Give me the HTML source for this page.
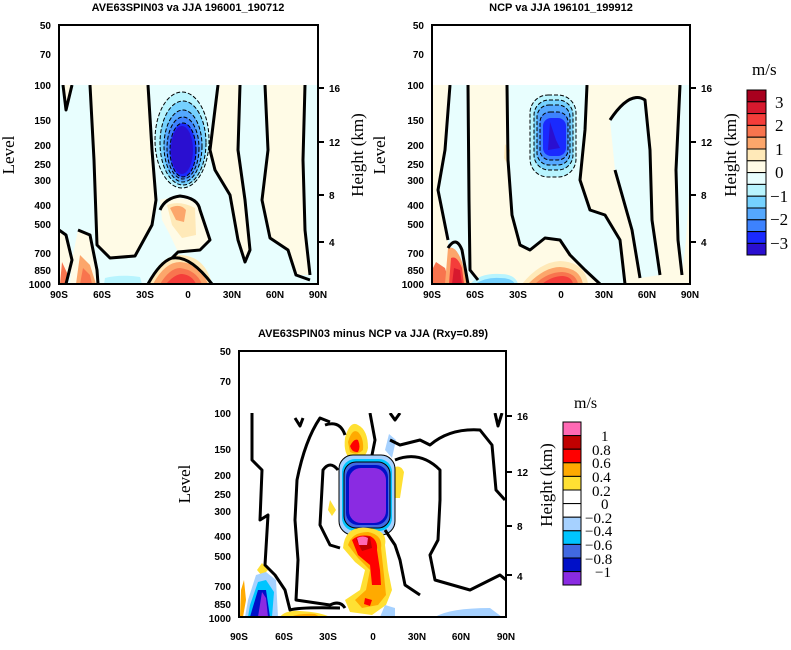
<!DOCTYPE html>
<html><head><meta charset="utf-8"><style>
html,body{margin:0;padding:0;background:#fff;}
svg{display:block;}
text{font-family:"Liberation Sans",sans-serif;}
.t{font-weight:bold;font-size:11px;}
.tk{font-weight:bold;font-size:10px;}
text.s,.s text{font-family:"Liberation Serif",serif;font-size:17px;}
.c{fill:none;stroke:#000;stroke-width:3;stroke-linejoin:round}
.d{fill:none;stroke:#000;stroke-width:1;stroke-dasharray:4,2}
.n{fill:none;stroke:#000;stroke-width:1}
</style></head><body>
<svg width="791" height="650" viewBox="0 0 791 650" xmlns="http://www.w3.org/2000/svg">
<defs>
<clipPath id="c1"><rect x="59" y="85" width="259" height="199"/></clipPath>
<clipPath id="c2"><rect x="432" y="85" width="258" height="199"/></clipPath>
<clipPath id="c3"><rect x="239" y="413" width="267" height="204"/></clipPath>
</defs>

<g clip-path="url(#c1)">
<rect x="59" y="85" width="259" height="199" fill="#e8fefe"/>
<path d="M90,85 L148,85 L152,150 L156,200 L152,225 L135,256 L110,258 L97,245 L94,160 Z" fill="#fffbe6"/>
<path d="M59,85 L63,85 L66,110 L72,85 L59,85 Z" fill="#fffbe6"/>
<path d="M218,85 L240,85 L238,150 L245,200 L250,250 L245,262 L238,240 L230,195 L215,170 L210,150 Z" fill="#fffbe6"/>
<path d="M265,85 L305,85 L303,160 L305,230 L310,275 L296,275 L288,250 L270,238 L262,200 L268,150 Z" fill="#fffbe6"/>
<path d="M59,230 L66,235 L72,260 L65,284 L59,284 Z" fill="#fffbe6"/>
<path d="M78,230 L90,235 L97,270 L98,284 L70,284 L72,260 Z" fill="#fffbe6"/>
<path d="M62,262 L68,275 L66,284 L60,284 Z" fill="#f8744e"/>
<path d="M80,255 L90,265 L96,284 L76,284 Z" fill="#fca66b"/>
<path d="M83,268 L90,275 L92,284 L80,284 Z" fill="#f8744e"/>
<path d="M160,200 Q175,195 198,202 L205,225 L210,240 L198,250 L178,252 L170,235 L162,220 Z" fill="#fffbe6"/>
<path d="M167,205 Q180,200 195,208 L196,235 L182,238 L172,225 Z" fill="#ffe9b8"/>
<path d="M170,208 Q180,203 186,210 L184,222 L176,220 Z" fill="#fca66b"/>
<path d="M148,284 Q160,255 180,255 Q205,256 212,284 Z" fill="#ffe9b8"/>
<path d="M153,284 Q165,262 180,262 Q200,263 208,284 Z" fill="#fca66b"/>
<path d="M160,284 Q170,268 180,268 Q196,270 202,284 Z" fill="#f8744e"/>
<path d="M166,284 Q175,274 182,274 Q192,275 196,284 Z" fill="#f43d3a"/>
<path d="M105,278 Q120,274 140,277 L142,284 L104,284 Z" fill="#b8f4fe"/>
<ellipse cx="182" cy="140" rx="27" ry="48" fill="#b8f4fe"/>
<ellipse cx="183" cy="143" rx="23" ry="42" fill="#75d1fe"/>
<ellipse cx="183" cy="146" rx="19" ry="36" fill="#55a8fe"/>
<ellipse cx="183" cy="148" rx="16" ry="31" fill="#3d82fe"/>
<ellipse cx="183" cy="150" rx="13" ry="27" fill="#1a2afe"/>
<ellipse cx="182" cy="150" rx="11" ry="24" fill="#2a0fd0"/>
<ellipse cx="182" cy="140" rx="27" ry="48" class="d"/>
<ellipse cx="183" cy="143" rx="23" ry="42" class="d"/>
<ellipse cx="183" cy="146" rx="19" ry="36" class="d"/>
<ellipse cx="183" cy="148" rx="16" ry="31" class="d"/>
<ellipse cx="183" cy="150" rx="13" ry="27" class="d"/>
<path class="c" d="M90,85 L94,160 L97,245 L110,258 L135,256 L152,225 L156,200 L152,150 L148,85"/>
<path class="c" d="M63,85 L66,110 L72,85"/>
<path class="c" d="M160,210 Q165,198 180,196 Q198,198 200,210 L205,225 L210,240 L200,250 L178,252 L172,258 Q190,255 212,284"/>
<path class="c" d="M148,284 Q160,262 172,258"/>
<path class="c" d="M218,85 L210,150 L215,170 L230,195 L238,240 L245,262 L250,250 L245,200 L238,150 L240,85"/>
<path class="c" d="M265,85 L268,150 L262,200 L270,238 L288,250 L296,275 L310,280"/>
<path class="c" d="M305,85 L303,160 L305,230 L310,275"/>
<path class="c" d="M59,230 L66,235 L72,260 L66,284"/>
<path class="c" d="M78,230 L90,235 L97,270 L98,284"/>
</g>
<rect x="59" y="25" width="259" height="259" fill="none" stroke="#000" stroke-width="2"/>

<g clip-path="url(#c2)">
<rect x="432" y="85" width="258" height="199" fill="#fffbe6"/>
<path d="M450,85 L468,85 L469,200 L470,270 L478,280 L450,284 L448,240 L438,190 L445,150 Z" fill="#e8fefe"/>
<path d="M507,85 L587,85 L585,130 L580,180 L590,210 L605,215 L620,240 L625,284 L600,284 L585,270 L570,255 L560,240 L545,238 L530,250 L520,245 L512,215 L508,160 Z" fill="#e8fefe"/>
<path d="M610,120 Q630,90 645,100 L650,150 L652,220 L660,275 L640,278 L632,230 L615,170 Z" fill="#e8fefe"/>
<path d="M680,85 L690,85 L690,180 L686,240 L682,275 L678,240 L676,170 Z" fill="#e8fefe"/>
<path d="M505,144 L510,150 L508,165 L504,158 Z" fill="#ffe9b8"/>
<path d="M470,284 Q480,273 500,274 Q515,274 518,284 Z" fill="#b8f4fe"/>
<path d="M475,284 Q486,277 500,278 Q512,278 515,284 Z" fill="#75d1fe"/>
<path d="M436,262 L445,268 L450,284 L432,284 L432,270 Z" fill="#f8744e"/>
<path d="M448,248 Q456,245 462,262 L468,284 L445,284 Z" fill="#fca66b"/>
<path d="M451,258 Q457,255 462,268 L464,284 L449,284 Z" fill="#f43d3a"/>
<path d="M454,268 L460,270 L462,284 L452,284 Z" fill="#d7192e"/>
<path d="M522,284 Q540,262 560,261 Q585,262 588,284 Z" fill="#ffe9b8"/>
<path d="M528,284 Q545,267 560,267 Q580,268 583,284 Z" fill="#fca66b"/>
<path d="M535,284 Q548,272 562,272 Q576,273 578,284 Z" fill="#f8744e"/>
<path d="M542,284 Q552,276 563,276 Q572,277 573,284 Z" fill="#f43d3a"/>
<rect x="530" y="95" width="46" height="82" rx="18" fill="#b8f4fe"/>
<rect x="534" y="100" width="39" height="70" rx="15" fill="#75d1fe"/>
<rect x="537" y="105" width="33" height="60" rx="12" fill="#55a8fe"/>
<rect x="540" y="112" width="28" height="48" rx="10" fill="#3d82fe"/>
<rect x="543" y="118" width="23" height="38" rx="8" fill="#1a2afe"/>
<path d="M550,122 L556,140 L560,148 L548,150 Z" fill="#2a0fd0"/>
<rect x="530" y="95" width="46" height="82" rx="18" class="d"/>
<rect x="534" y="100" width="39" height="70" rx="15" class="d"/>
<rect x="537" y="105" width="33" height="60" rx="12" class="d"/>
<rect x="540" y="112" width="28" height="48" rx="10" class="d"/>
<path class="c" d="M468,85 L469,200 L470,270 L478,280"/>
<path class="c" d="M450,85 L445,150 L438,190 L448,240"/>
<path class="c" d="M507,85 L508,160 L512,215 L520,245 L530,250 L545,238 L560,240 L570,255 L585,270 L600,284"/>
<path class="c" d="M587,85 L585,130 L580,180 L590,210 L605,215 L620,240 L625,284"/>
<path class="c" d="M610,120 Q630,90 645,100 L650,150 L652,220 L660,275"/>
<path class="c" d="M615,170 L632,230 L640,278"/>
<path class="c" d="M680,85 L676,170 L678,240 L682,275"/>
<path class="c" d="M448,248 Q456,235 462,250 L468,284"/>
</g>
<rect x="432" y="25" width="258" height="259" fill="none" stroke="#000" stroke-width="2"/>

<g clip-path="url(#c3)">
<rect x="239" y="413" width="267" height="204" fill="#fff"/>
<path d="M345,438 Q350,420 358,425 Q368,430 368,448 Q366,460 352,460 Q343,455 345,438 Z" fill="#ffe033"/>
<path d="M348,442 Q352,428 358,432 Q364,438 363,450 Q357,456 350,452 Z" fill="#ffaa00"/>
<path d="M350,446 Q354,438 358,440 Q361,447 358,452 Q352,453 350,446 Z" fill="#ff0000"/>
<path d="M389,434 L396,440 L392,458 L385,450 Z" fill="#a6d1ff"/>
<path d="M390,470 Q400,462 404,472 L400,498 L392,498 Z" fill="#ffe033"/>
<path d="M330,500 L336,510 L332,516 L328,510 Z" fill="#ffe033"/>
<path d="M262,563 L268,570 L262,576 L257,570 Z" fill="#ffe033"/>
<rect x="339" y="455" width="56" height="80" rx="14" fill="#a6d1ff"/>
<rect x="342" y="459" width="50" height="72" rx="13" fill="#00c5ff"/>
<rect x="344" y="462" width="46" height="66" rx="12" fill="#4169e1"/>
<rect x="346" y="465" width="42" height="60" rx="12" fill="#0010c8"/>
<rect x="349" y="468" width="37" height="55" rx="12" fill="#8a2be2"/>
<rect x="339" y="455" width="56" height="80" rx="14" class="n"/>
<rect x="344" y="462" width="46" height="66" rx="12" class="n"/>
<path d="M343,548 Q345,525 368,528 Q388,530 385,545 L388,570 L392,590 L386,605 L372,615 L350,612 L345,600 L360,590 L365,570 L355,562 Z" fill="#ffe033"/>
<path d="M348,545 Q352,532 368,532 Q383,535 381,548 L384,575 L386,595 L378,605 L362,608 L355,600 L366,590 L370,570 L358,558 Z" fill="#ffaa00"/>
<path d="M352,540 Q358,534 370,536 Q378,540 377,550 L380,570 L381,585 L372,585 L370,565 L358,555 Z" fill="#ff0000"/>
<path d="M356,539 Q362,535 370,537 L372,548 L362,551 Z" fill="#c00000"/>
<path d="M357,538 Q363,535 368,538 L367,545 L359,545 Z" fill="#ff69b4"/>
<path d="M365,598 L372,600 L370,606 L364,604 Z" fill="#ff0000"/>
<path d="M280,617 Q285,610 300,611 Q320,612 330,617 Z" fill="#ffe033"/>
<path d="M290,617 Q300,613 315,614 L320,617 Z" fill="#ffaa00"/>
<path d="M248,600 L256,575 L266,572 L276,580 L278,617 L245,617 Z" fill="#a6d1ff"/>
<path d="M250,605 L258,582 L266,580 L274,592 L272,617 L248,617 Z" fill="#00c5ff"/>
<path d="M252,610 L258,590 L266,590 L270,617 L250,617 Z" fill="#0010c8"/>
<path d="M258,617 L262,592 L266,598 L268,617 Z" fill="#8a2be2"/>
<path d="M241,590 L244,580 L246,600 L243,617 L240,617 Z" fill="#ffaa00"/>
<path d="M435,617 Q450,608 490,608 L502,617 Z" fill="#a6d1ff"/>
<path d="M380,617 L385,605 L395,608 L395,617 Z" fill="#a6d1ff"/>
<path class="c" d="M252,413 L252,460 L262,470 L260,520 L268,515 L265,565 L275,575 L285,590 L290,610 Q300,607 340,608"/>
<path class="c" d="M295,418 L300,426 L303,418"/>
<path class="c" d="M330,422 L320,418 Q305,440 297,480 L295,520 L298,560 L296,600 L330,605 Q340,600 345,608"/>
<path class="c" d="M325,425 Q340,420 345,435"/>
<path class="c" d="M370,413 L375,440 L372,455"/>
<path class="c" d="M338,470 Q330,460 323,470 L320,525 L330,545 L340,548"/>
<path class="c" d="M390,440 L400,445 L420,440 L430,445 Q450,428 480,430 L492,445 L496,490 L505,500"/>
<path class="c" d="M395,460 Q420,450 440,470 L440,500 L438,540 L430,555 L435,580 L470,590 L490,580 L500,575 L506,580"/>
<path class="c" d="M385,530 L395,545 L400,560 L405,585 L420,595"/>
<path class="c" d="M390,413 L395,420 L400,413"/>
<path class="c" d="M495,413 L498,426 L502,413"/>
</g>
<rect x="239" y="351" width="267" height="266" fill="none" stroke="#000" stroke-width="2"/>

<g class="tk" text-anchor="end">
<text x="51" y="29">50</text><text x="51" y="58">70</text><text x="51" y="89">100</text><text x="51" y="124">150</text><text x="51" y="149">200</text><text x="51" y="168">250</text><text x="51" y="184">300</text><text x="51" y="209">400</text><text x="51" y="228">500</text><text x="51" y="257">700</text><text x="51" y="274">850</text><text x="51" y="288">1000</text>
<text x="424" y="29">50</text><text x="424" y="58">70</text><text x="424" y="89">100</text><text x="424" y="124">150</text><text x="424" y="149">200</text><text x="424" y="168">250</text><text x="424" y="184">300</text><text x="424" y="209">400</text><text x="424" y="228">500</text><text x="424" y="257">700</text><text x="424" y="274">850</text><text x="424" y="288">1000</text>
<text x="231" y="355">50</text><text x="231" y="385">70</text><text x="231" y="417">100</text><text x="231" y="453">150</text><text x="231" y="479">200</text><text x="231" y="498">250</text><text x="231" y="515">300</text><text x="231" y="540">400</text><text x="231" y="560">500</text><text x="231" y="590">700</text><text x="231" y="608">850</text><text x="231" y="622">1000</text>
</g>
<g class="tk" text-anchor="middle">
<text x="59" y="298">90S</text><text x="102" y="298">60S</text><text x="145" y="298">30S</text><text x="188" y="298">0</text><text x="232" y="298">30N</text><text x="275" y="298">60N</text><text x="318" y="298">90N</text>
<text x="432" y="298">90S</text><text x="475" y="298">60S</text><text x="518" y="298">30S</text><text x="561" y="298">0</text><text x="604" y="298">30N</text><text x="647" y="298">60N</text><text x="690" y="298">90N</text>
<text x="239" y="640">90S</text><text x="284" y="640">60S</text><text x="328" y="640">30S</text><text x="373" y="640">0</text><text x="417" y="640">30N</text><text x="461" y="640">60N</text><text x="506" y="640">90N</text>
</g>
<g class="tk" font-size="9">
<text x="329" y="92">16</text><text x="329" y="146">12</text><text x="329" y="199">8</text><text x="329" y="246">4</text>
<text x="701" y="92">16</text><text x="701" y="146">12</text><text x="701" y="199">8</text><text x="701" y="246">4</text>
<text x="517" y="420">16</text><text x="517" y="476">12</text><text x="517" y="530">8</text><text x="517" y="580">4</text>
</g>
<g stroke="#000" stroke-width="2">
<line x1="318" y1="88" x2="324" y2="88"/><line x1="318" y1="142" x2="324" y2="142"/><line x1="318" y1="195" x2="324" y2="195"/><line x1="318" y1="242" x2="324" y2="242"/>
<line x1="690" y1="88" x2="696" y2="88"/><line x1="690" y1="142" x2="696" y2="142"/><line x1="690" y1="195" x2="696" y2="195"/><line x1="690" y1="242" x2="696" y2="242"/>
<line x1="506" y1="416" x2="512" y2="416"/><line x1="506" y1="472" x2="512" y2="472"/><line x1="506" y1="526" x2="512" y2="526"/><line x1="506" y1="575" x2="512" y2="575"/>
</g>
<text class="t" x="188" y="11" text-anchor="middle">AVE63SPIN03 va JJA 196001_190712</text>
<text class="t" x="561" y="11" text-anchor="middle">NCP va JJA 196101_199912</text>
<text class="t" x="373" y="337" text-anchor="middle">AVE63SPIN03 minus NCP va JJA (Rxy=0.89)</text>
<text class="s" transform="translate(14,155) rotate(-90)" text-anchor="middle">Level</text>
<text class="s" transform="translate(385,155) rotate(-90)" text-anchor="middle">Level</text>
<text class="s" transform="translate(190,484) rotate(-90)" text-anchor="middle">Level</text>
<text class="s" transform="translate(363,155) rotate(-90)" text-anchor="middle">Height (km)</text>
<text class="s" transform="translate(736,155) rotate(-90)" text-anchor="middle">Height (km)</text>
<text class="s" transform="translate(552,485) rotate(-90)" text-anchor="middle">Height (km)</text>

<g stroke="#000" stroke-width="1">
<rect x="747" y="90" width="19" height="11.8" fill="#a8001e"/>
<rect x="747" y="101.8" width="19" height="11.8" fill="#d7192e"/>
<rect x="747" y="113.6" width="19" height="11.8" fill="#f43d3a"/>
<rect x="747" y="125.4" width="19" height="11.8" fill="#f8744e"/>
<rect x="747" y="137.2" width="19" height="11.8" fill="#fca66b"/>
<rect x="747" y="149" width="19" height="11.8" fill="#ffe9b8"/>
<rect x="747" y="160.8" width="19" height="11.8" fill="#fffbe6"/>
<rect x="747" y="172.6" width="19" height="11.8" fill="#e8fefe"/>
<rect x="747" y="184.4" width="19" height="11.8" fill="#b8f4fe"/>
<rect x="747" y="196.2" width="19" height="11.8" fill="#75d1fe"/>
<rect x="747" y="208" width="19" height="11.8" fill="#55a8fe"/>
<rect x="747" y="219.8" width="19" height="11.8" fill="#3d82fe"/>
<rect x="747" y="231.6" width="19" height="11.8" fill="#1a2afe"/>
<rect x="747" y="243.4" width="19" height="11.6" fill="#2a0fd0"/>
</g>
<g class="s">
<text x="752" y="75">m/s</text>
<text x="775" y="108">3</text><text x="775" y="131">2</text><text x="775" y="155">1</text><text x="775" y="178">0</text><text x="770" y="202">−1</text><text x="770" y="225">−2</text><text x="770" y="249">−3</text>
</g>
<g stroke="#000" stroke-width="1">
<rect x="563" y="422" width="18" height="13.6" fill="#ff69b4"/>
<rect x="563" y="435.6" width="18" height="13.6" fill="#c00000"/>
<rect x="563" y="449.2" width="18" height="13.6" fill="#ff0000"/>
<rect x="563" y="462.8" width="18" height="13.6" fill="#ffaa00"/>
<rect x="563" y="476.4" width="18" height="13.6" fill="#ffe033"/>
<rect x="563" y="490" width="18" height="13.6" fill="#fff"/>
<rect x="563" y="503.6" width="18" height="13.6" fill="#fff"/>
<rect x="563" y="517.2" width="18" height="13.6" fill="#a6d1ff"/>
<rect x="563" y="530.8" width="18" height="13.6" fill="#00c5ff"/>
<rect x="563" y="544.4" width="18" height="13.6" fill="#4169e1"/>
<rect x="563" y="558" width="18" height="13.6" fill="#0010c8"/>
<rect x="563" y="571.6" width="18" height="13.4" fill="#8a2be2"/>
</g>
<g class="s">
<text x="574" y="408" style="font-size:16px">m/s</text>
<text x="601" y="441" style="font-size:15px">1</text><text x="592" y="455" style="font-size:15px">0.8</text><text x="592" y="468" style="font-size:15px">0.6</text><text x="592" y="482" style="font-size:15px">0.4</text><text x="592" y="496" style="font-size:15px">0.2</text><text x="601" y="509" style="font-size:15px">0</text><text x="585" y="523" style="font-size:15px">−0.2</text><text x="585" y="536" style="font-size:15px">−0.4</text><text x="585" y="550" style="font-size:15px">−0.6</text><text x="585" y="564" style="font-size:15px">−0.8</text><text x="595" y="577" style="font-size:15px">−1</text>
</g>
</svg>
</body></html>
